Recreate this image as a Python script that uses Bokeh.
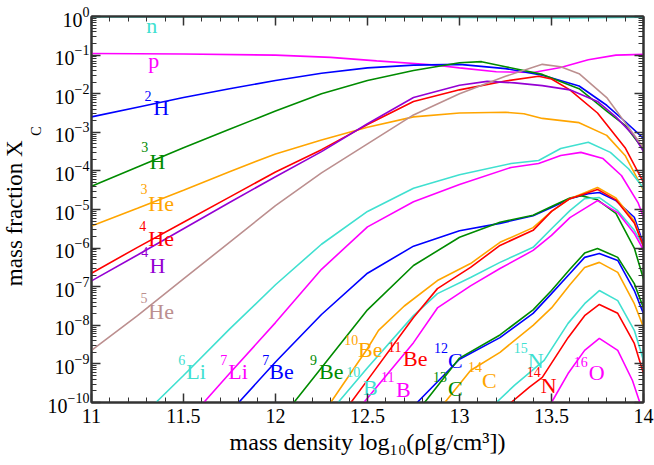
import math
from bokeh.plotting import figure
from bokeh.models import (Range1d, FixedTicker, LinearAxis, LogAxis, Title,
                          ColumnDataSource, CustomJSTickFormatter, LogTickFormatter)
from bokeh.core.properties import value
from bokeh.embed import file_html
from bokeh.resources import INLINE

FONT = "Liberation Serif"

# ---------------- data: log10(mass fraction) ----------------
x_n = [11, 12, 12.8, 13.3, 13.6, 14]
l_n = [-0.008, -0.01, -0.02, -0.035, -0.04, -0.02]

x_p = [11, 11.5, 12, 12.3, 12.55, 12.85, 13.0, 13.2, 13.4, 13.55, 13.7, 13.85, 14]
l_p = [-0.96, -0.97, -1.0, -1.06, -1.15, -1.25, -1.33, -1.43, -1.45, -1.32, -1.12, -1.0, -0.98]

x_2H = [11, 11.25, 11.5, 11.75, 12, 12.25, 12.5, 12.75, 13.0, 13.25, 13.45, 13.65, 13.8, 13.9, 14]
l_2H = [-2.6, -2.35, -2.1, -1.87, -1.66, -1.47, -1.33, -1.26, -1.24, -1.35, -1.52, -1.8, -2.3, -2.72, -3.16]

x_3H = [11, 11.25, 11.5, 11.75, 12, 12.25, 12.5, 12.75, 13.0, 13.12, 13.25, 13.45, 13.65, 13.8, 13.9, 14]
l_3H = [-4.4, -3.9, -3.4, -2.92, -2.45, -2.0, -1.66, -1.4, -1.2, -1.17, -1.3, -1.5, -1.87, -2.45, -2.82, -3.45]

x_3He = [11, 11.25, 11.5, 11.75, 12, 12.25, 12.5, 12.75, 13.0, 13.25, 13.35, 13.45, 13.65, 13.8, 13.9, 14]
l_3He = [-5.43, -4.97, -4.5, -4.02, -3.56, -3.2, -2.87, -2.6, -2.5, -2.48, -2.52, -2.64, -2.75, -3.08, -3.6, -4.5]

x_4He = [11, 11.25, 11.5, 11.75, 12, 12.25, 12.5, 12.75, 13.0, 13.25, 13.43, 13.5, 13.6, 13.75, 13.9, 14]
l_4He = [-6.65, -5.98, -5.33, -4.68, -4.03, -3.45, -2.8, -2.2, -1.9, -1.67, -1.55, -1.62, -1.9, -2.5, -3.4, -4.3]

x_4H = [11, 11.25, 11.5, 11.75, 12, 12.25, 12.5, 12.75, 13.0, 13.15, 13.3, 13.45, 13.6, 13.75, 13.85, 13.95, 14]
l_4H = [-6.85, -6.18, -5.5, -4.82, -4.15, -3.5, -2.78, -2.1, -1.78, -1.68, -1.72, -1.79, -1.9, -2.2, -2.6, -3.1, -3.5]

x_5He = [11, 11.25, 11.5, 11.75, 12, 12.25, 12.5, 12.75, 13.0, 13.25, 13.45, 13.55, 13.65, 13.8, 13.9, 14]
l_5He = [-8.65, -7.75, -6.8, -5.85, -4.9, -4.05, -3.3, -2.55, -2.0, -1.55, -1.24, -1.3, -1.48, -2.1, -2.75, -3.4]

x_6Li = [11.35, 11.5, 11.75, 12, 12.25, 12.5, 12.75, 13.0, 13.28, 13.43, 13.55, 13.7, 13.82, 13.92, 14]
l_6Li = [-10, -9.3, -8.1, -6.95, -5.9, -5.05, -4.45, -4.1, -3.81, -3.73, -3.42, -3.26, -3.52, -3.95, -4.45]

x_7Li = [11.61, 11.75, 12, 12.25, 12.5, 12.75, 13.0, 13.28, 13.43, 13.55, 13.66, 13.78, 13.88, 13.97, 14]
l_7Li = [-10, -9.25, -7.93, -6.55, -5.45, -4.8, -4.35, -3.91, -3.81, -3.6, -3.52, -3.68, -4.12, -4.82, -5.2]

x_7Be = [11.8, 12, 12.25, 12.5, 12.75, 13.0, 13.22, 13.4, 13.5, 13.6, 13.7, 13.76, 13.85, 13.95, 14]
l_7Be = [-10, -8.95, -7.72, -6.65, -5.95, -5.55, -5.36, -5.16, -4.95, -4.72, -4.59, -4.56, -4.77, -5.2, -5.9]

x_9Be = [12.1, 12.25, 12.5, 12.75, 13.0, 13.22, 13.4, 13.5, 13.6, 13.66, 13.75, 13.85, 13.95, 14]
l_9Be = [-10, -9.1, -7.6, -6.45, -5.72, -5.33, -5.15, -4.92, -4.7, -4.64, -4.75, -5.1, -6.0, -6.8]

x_10Be = [12.3, 12.5, 12.56, 12.7, 12.88, 13.06, 13.22, 13.4, 13.5, 13.6, 13.75, 13.85, 13.95, 14]
l_10Be = [-10, -8.6, -8.13, -7.5, -6.84, -6.4, -5.85, -5.47, -5.05, -4.72, -4.43, -4.7, -5.3, -5.95]

x_10B = [12.34, 12.5, 12.75, 12.88, 13.06, 13.22, 13.4, 13.5, 13.6, 13.68, 13.76, 13.86, 13.95, 14]
l_10B = [-10, -9.1, -7.75, -7.18, -6.76, -6.37, -5.98, -5.5, -5.03, -4.72, -4.69, -5.03, -5.54, -5.95]

x_11Be = [12.41, 12.5, 12.75, 12.88, 13.06, 13.22, 13.4, 13.5, 13.6, 13.75, 13.85, 13.95, 14]
l_11Be = [-10, -9.42, -7.8, -7.05, -6.5, -5.93, -5.54, -5.05, -4.72, -4.48, -4.75, -5.35, -5.95]

x_11B = [12.48, 12.75, 12.88, 13.06, 13.22, 13.4, 13.5, 13.6, 13.75, 13.86, 13.95, 14]
l_11B = [-10, -8.45, -7.55, -6.98, -6.53, -6.06, -5.67, -5.21, -4.77, -5.08, -5.62, -6.05]

x_12C = [12.77, 13.0, 13.22, 13.4, 13.5, 13.6, 13.68, 13.76, 13.86, 13.95, 14]
l_12C = [-10, -8.88, -8.32, -7.69, -7.18, -6.66, -6.24, -6.14, -6.32, -7.1, -7.7]

x_13C = [12.81, 13.0, 13.22, 13.4, 13.5, 13.6, 13.68, 13.75, 13.86, 13.95, 14]
l_13C = [-10, -8.85, -8.25, -7.6, -7.1, -6.55, -6.13, -6.01, -6.24, -6.92, -7.55]

x_14C = [12.92, 13.06, 13.22, 13.4, 13.5, 13.6, 13.68, 13.76, 13.86, 13.95, 14]
l_14C = [-10, -9.17, -8.7, -8.0, -7.55, -6.95, -6.5, -6.37, -6.63, -7.44, -8.05]

x_15N = [13.2, 13.3, 13.46, 13.59, 13.68, 13.76, 13.86, 13.95, 14]
l_15N = [-10, -9.55, -8.91, -7.95, -7.44, -7.1, -7.36, -8.13, -8.91]

x_14N = [13.28, 13.38, 13.45, 13.59, 13.68, 13.76, 13.86, 13.95, 14]
l_14N = [-10, -9.6, -9.35, -8.32, -7.75, -7.46, -7.69, -8.47, -9.25]

x_16O = [13.5, 13.59, 13.68, 13.76, 13.86, 13.94, 13.98, 14]
l_16O = [-10, -9.25, -8.65, -8.34, -8.65, -9.43, -10, -10.4]

TURQ, MAG, BLUE, GREEN, ORANGE, RED, VIOLET, BROWN = (
    "#40E0D0", "#FF00FF", "#0000FF", "#008B00", "#FFA500", "#FF0000", "#9400D3", "#BC8F8F")

series = [
    (x_n, l_n, TURQ), (x_p, l_p, MAG), (x_2H, l_2H, BLUE), (x_3H, l_3H, GREEN),
    (x_3He, l_3He, ORANGE), (x_4He, l_4He, RED), (x_4H, l_4H, VIOLET), (x_5He, l_5He, BROWN),
    (x_6Li, l_6Li, TURQ), (x_7Li, l_7Li, MAG), (x_7Be, l_7Be, BLUE), (x_9Be, l_9Be, GREEN),
    (x_10Be, l_10Be, ORANGE), (x_10B, l_10B, TURQ), (x_11Be, l_11Be, RED), (x_11B, l_11B, MAG),
    (x_12C, l_12C, BLUE), (x_13C, l_13C, GREEN), (x_14C, l_14C, ORANGE),
    (x_15N, l_15N, TURQ), (x_14N, l_14N, RED), (x_16O, l_16O, MAG),
]

# curve labels: element symbol, mass number, colour, positions (x data, log10 y)
lab_sym = ["n", "p", "H", "H", "He", "He", "H", "He", "Li", "Li", "Be", "Be", "Be", "B",
           "Be", "B", "C", "C", "C", "N", "N", "O"]
lab_mass = ["", "", "2", "3", "3", "4", "4", "5", "6", "7", "7", "9", "10", "10",
            "11", "11", "12", "13", "14", "15", "14", "16"]
lab_color = [TURQ, MAG, BLUE, GREEN, ORANGE, RED, VIOLET, BROWN, TURQ, MAG, BLUE, GREEN,
             ORANGE, TURQ, RED, MAG, BLUE, GREEN, ORANGE, TURQ, RED, MAG]
sym_x = [11.298, 11.309, 11.336, 11.315, 11.309, 11.309, 11.315, 11.309, 11.515, 11.743,
         11.966, 12.237, 12.449, 12.476, 12.693, 12.655, 12.937, 12.937, 13.122, 13.371,
         13.442, 13.702]
sym_ly = [-0.24, -1.15, -2.36, -3.76, -4.85, -5.75, -6.45, -7.64, -9.2, -9.2,
          -9.2, -9.2, -8.63, -9.61, -8.86, -9.66, -8.91, -9.64, -9.43, -8.91,
          -9.56, -9.22]
mass_x = [11.298, 11.309, 11.288, 11.271, 11.266, 11.26, 11.271, 11.266, 11.472, 11.7,
          11.928, 12.188, 12.373, 12.384, 12.612, 12.574, 12.861, 12.856, 13.046, 13.295,
          13.366, 13.621]
mass_ly = [-0.24, -1.15, -2.07, -3.39, -4.48, -5.44, -6.09, -7.28, -8.89, -8.89,
           -8.89, -8.89, -8.37, -9.22, -8.55, -9.35, -8.58, -9.33, -9.09, -8.58,
           -9.22, -8.94]

x_ticks = [11, 11.5, 12, 12.5, 13, 13.5, 14]
x_tick_labels = ["11", "11.5", "12", "12.5", "13", "13.5", "14"]
y_exponents = [0, -1, -2, -3, -4, -5, -6, -7, -8, -9, -10]

x_title = "mass density log₁₀(ρ[g/cm³])"
y_title = "mass fraction X"
y_title_sub = "C"

# ---------------- figure ----------------
p = figure(width=654, height=465, x_range=Range1d(11, 14), y_range=Range1d(1e-10, 1),
           y_axis_type="log", output_backend="svg", toolbar_location=None,
           min_border_left=90, min_border_right=11, min_border_top=16,
           min_border_bottom=63)
p.background_fill_color = "white"
p.border_fill_color = "white"
p.grid.visible = False
p.outline_line_color = "#333333"
p.outline_line_width = 2

xticker = FixedTicker(ticks=x_ticks, minor_ticks=[11 + 0.1 * i for i in range(31)])
yticker = FixedTicker(ticks=[10.0 ** k for k in y_exponents],
                      minor_ticks=[m * 10.0 ** k for k in range(-10, 0) for m in range(2, 10)])


def style_axis(ax, ticker, show_labels):
    ax.ticker = ticker
    ax.major_tick_in = 9
    ax.major_tick_out = 0
    ax.minor_tick_in = 5
    ax.minor_tick_out = 0
    ax.axis_line_color = "#333333"
    ax.axis_line_width = 2
    ax.major_tick_line_color = "#333333"
    ax.major_tick_line_width = 1.5
    ax.minor_tick_line_color = "#333333"
    ax.minor_tick_line_width = 1
    ax.major_label_text_font = FONT
    ax.major_label_text_color = "black"
    ax.axis_label_text_font = FONT
    ax.axis_label_text_font_style = "normal"
    ax.axis_label_text_color = "black"
    if not show_labels:
        ax.formatter = CustomJSTickFormatter(code="return ''")
        ax.major_label_text_font_size = "0px"
        ax.major_label_standoff = 0


bx = p.xaxis[0]
style_axis(bx, xticker, True)
bx.major_label_overrides = {float(t): s for t, s in zip(x_ticks, x_tick_labels)}
bx.major_label_text_font_size = "20px"
bx.major_label_standoff = 6
bx.axis_label = x_title
bx.axis_label_text_font_size = "24px"
bx.axis_label_standoff = 3

ly = p.yaxis[0]
style_axis(ly, yticker, True)
ly.formatter = LogTickFormatter()
ly.major_label_text_font_size = "20px"
ly.major_label_standoff = 2

top = LinearAxis()
style_axis(top, xticker, False)
p.add_layout(top, "above")
right = LogAxis()
style_axis(right, yticker, False)
p.add_layout(right, "right")

# y axis title built from two titles in the left panel (subscript closer to the axis)
t_sub = Title(text=y_title_sub, align="right", offset=110, standoff=0,
              text_font=FONT, text_font_size="14px", text_font_style="normal",
              text_color="black", vertical_align="middle")
t_main = Title(text=y_title, align="right", offset=124, standoff=0,
               text_font=FONT, text_font_size="23px", text_font_style="normal",
               text_color="black", vertical_align="middle")
p.add_layout(t_sub, "left")
p.add_layout(t_main, "left")

# curves
for xs, ls, col in series:
    p.line(xs, [10.0 ** v for v in ls], line_color=col, line_width=1.6)

# curve labels
src_sym = ColumnDataSource(dict(x=sym_x, y=[10.0 ** v for v in sym_ly], t=lab_sym, c=lab_color))
p.text(x="x", y="y", text="t", text_color="c", source=src_sym, text_font=value(FONT),
       text_font_size="22px", text_align="left", text_baseline="alphabetic")
src_mass = ColumnDataSource(dict(x=mass_x, y=[10.0 ** v for v in mass_ly], t=lab_mass, c=lab_color))
p.text(x="x", y="y", text="t", text_color="c", source=src_mass, text_font=value(FONT),
       text_font_size="14px", text_align="left", text_baseline="alphabetic")

open("out.html", "w").write(file_html(p, INLINE))
